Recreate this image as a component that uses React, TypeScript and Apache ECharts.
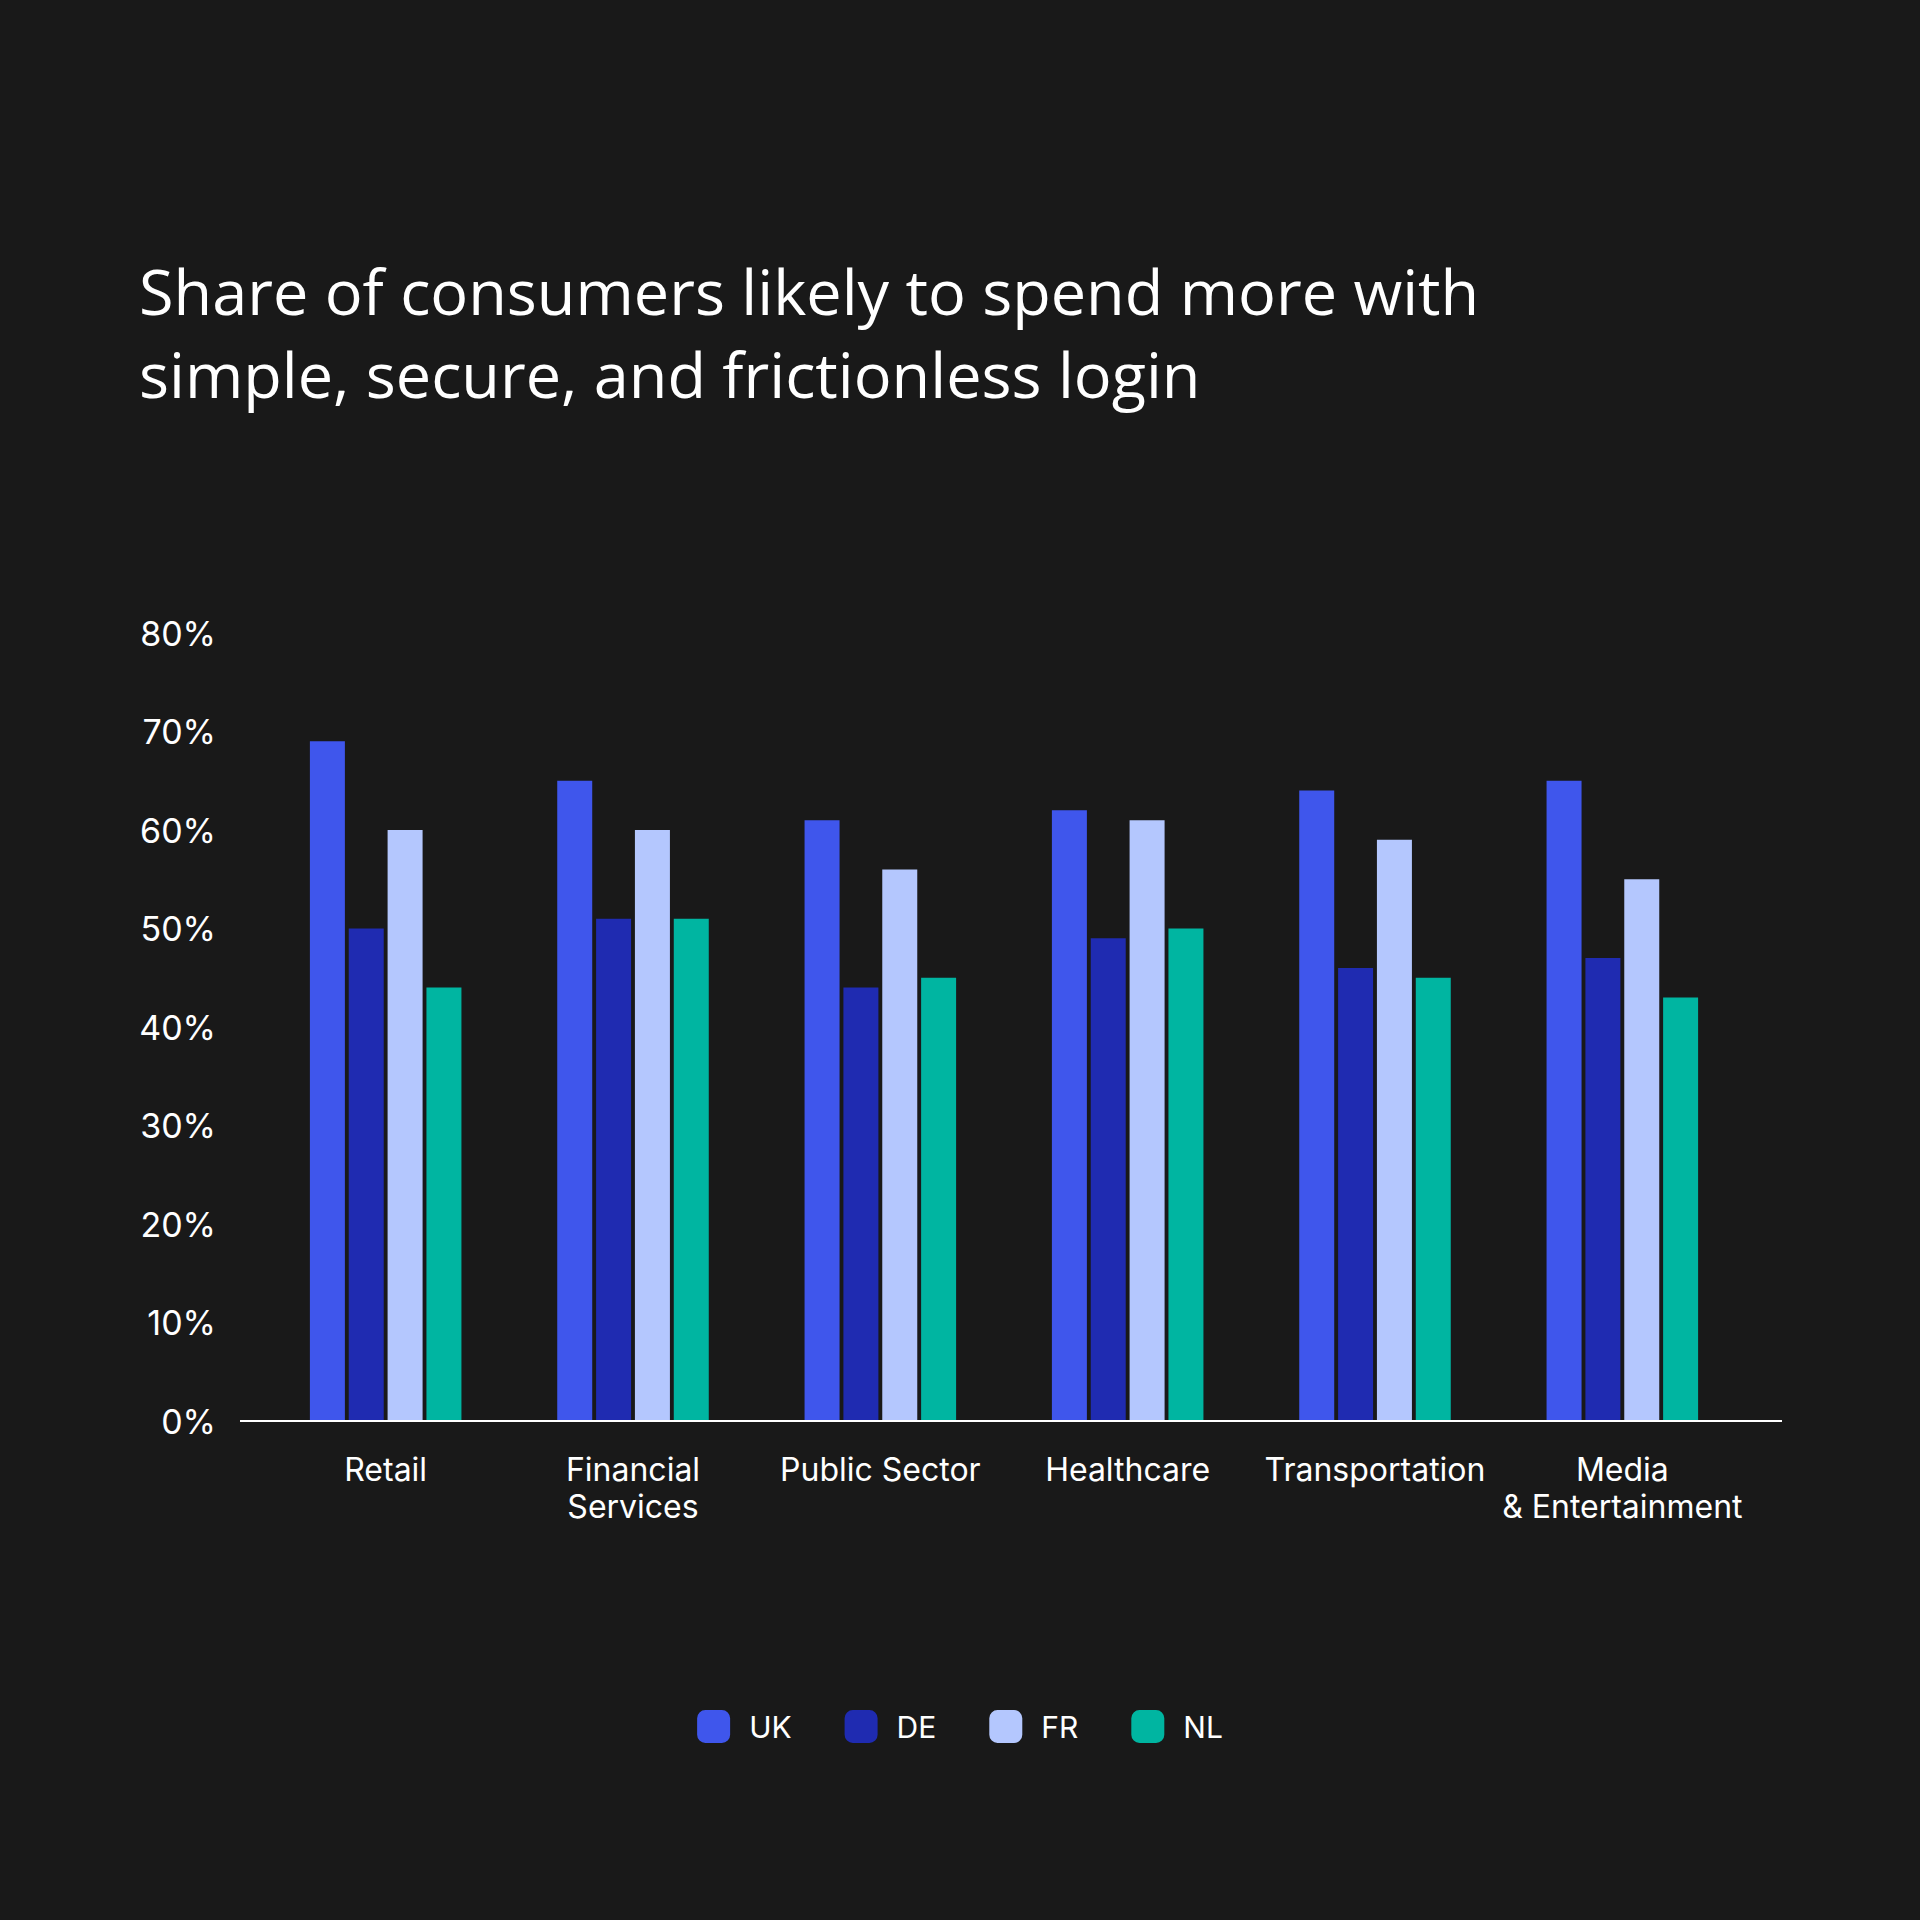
import React, { useEffect, useRef } from "react";
import * as echarts from "echarts";

const categories = [
  "Retail",
  "Financial\nServices",
  "Public Sector",
  "Healthcare",
  "Transportation",
  "Media\n& Entertainment",
];
const seriesNames = ["UK", "DE", "FR", "NL"];
const ukValues = [69, 65, 61, 62, 64, 65];
const deValues = [50, 51, 44, 49, 46, 47];
const frValues = [60, 60, 56, 61, 59, 55];
const nlValues = [44, 51, 45, 50, 45, 43];
const yTicks = [0, 10, 20, 30, 40, 50, 60, 70, 80];

const colors = ["#3F56EC", "#1F2BB1", "#B4C7FE", "#00B5A1"];
const titleText =
  "Share of consumers likely to spend more with\nsimple, secure, and frictionless login";

export default function App() {
  const ref = useRef<HTMLDivElement>(null);
  useEffect(() => {
    document.body.style.margin = "0";
    document.body.style.background = "#191919";
    if (!ref.current) return;
    const chart = echarts.init(ref.current, undefined, { renderer: "svg" });
    const values = [ukValues, deValues, frValues, nlValues];
    const font = "Inter, 'Liberation Sans', sans-serif";
    chart.setOption({
      animation: false,
      backgroundColor: "#191919",
      title: {
        text: titleText,
        left: 134,
        top: 244,
        textStyle: {
          color: "#ffffff",
          fontFamily: "'Open Sans', 'Noto Sans', sans-serif",
          fontSize: 63,
          fontWeight: 400,
          lineHeight: 83,
        },
      },
      legend: {
        data: seriesNames,
        left: "center",
        top: 1705,
        icon: "roundRect",
        itemWidth: 33,
        itemHeight: 33,
        itemGap: 53,
        textStyle: {
          color: "#ffffff",
          fontFamily: font,
          fontSize: 30,
          padding: [0, 0, 0, 14],
        },
      },
      grid: {
        left: 262,
        width: 1484,
        top: 633,
        height: 788,
        containLabel: false,
      },
      xAxis: {
        type: "category",
        data: categories,
        axisLine: { show: false },
        axisTick: { show: false },
        axisLabel: {
          color: "#ffffff",
          fontFamily: font,
          fontSize: 32,
          lineHeight: 37,
          margin: 30,
          interval: 0,
        },
      },
      yAxis: {
        type: "value",
        min: yTicks[0],
        max: yTicks[yTicks.length - 1],
        interval: 10,
        splitLine: { show: false },
        axisLine: { show: false },
        axisTick: { show: false },
        axisLabel: {
          color: "#ffffff",
          fontFamily: font,
          fontSize: 34,
          margin: 46,
          formatter: "{value}%",
        },
      },
      graphic: [
        {
          type: "line",
          shape: { x1: 240, y1: 1421, x2: 1782, y2: 1421 },
          style: { stroke: "#ffffff", lineWidth: 2 },
          z: 10,
        },
      ],
      series: seriesNames.map((name, i) => ({
        name,
        type: "bar",
        data: values[i],
        barWidth: 35,
        barGap: "11%",
        itemStyle: { color: colors[i] },
      })),
    });
    return () => chart.dispose();
  }, []);
  return <div ref={ref} style={{ width: 1920, height: 1920 }} />;
}
